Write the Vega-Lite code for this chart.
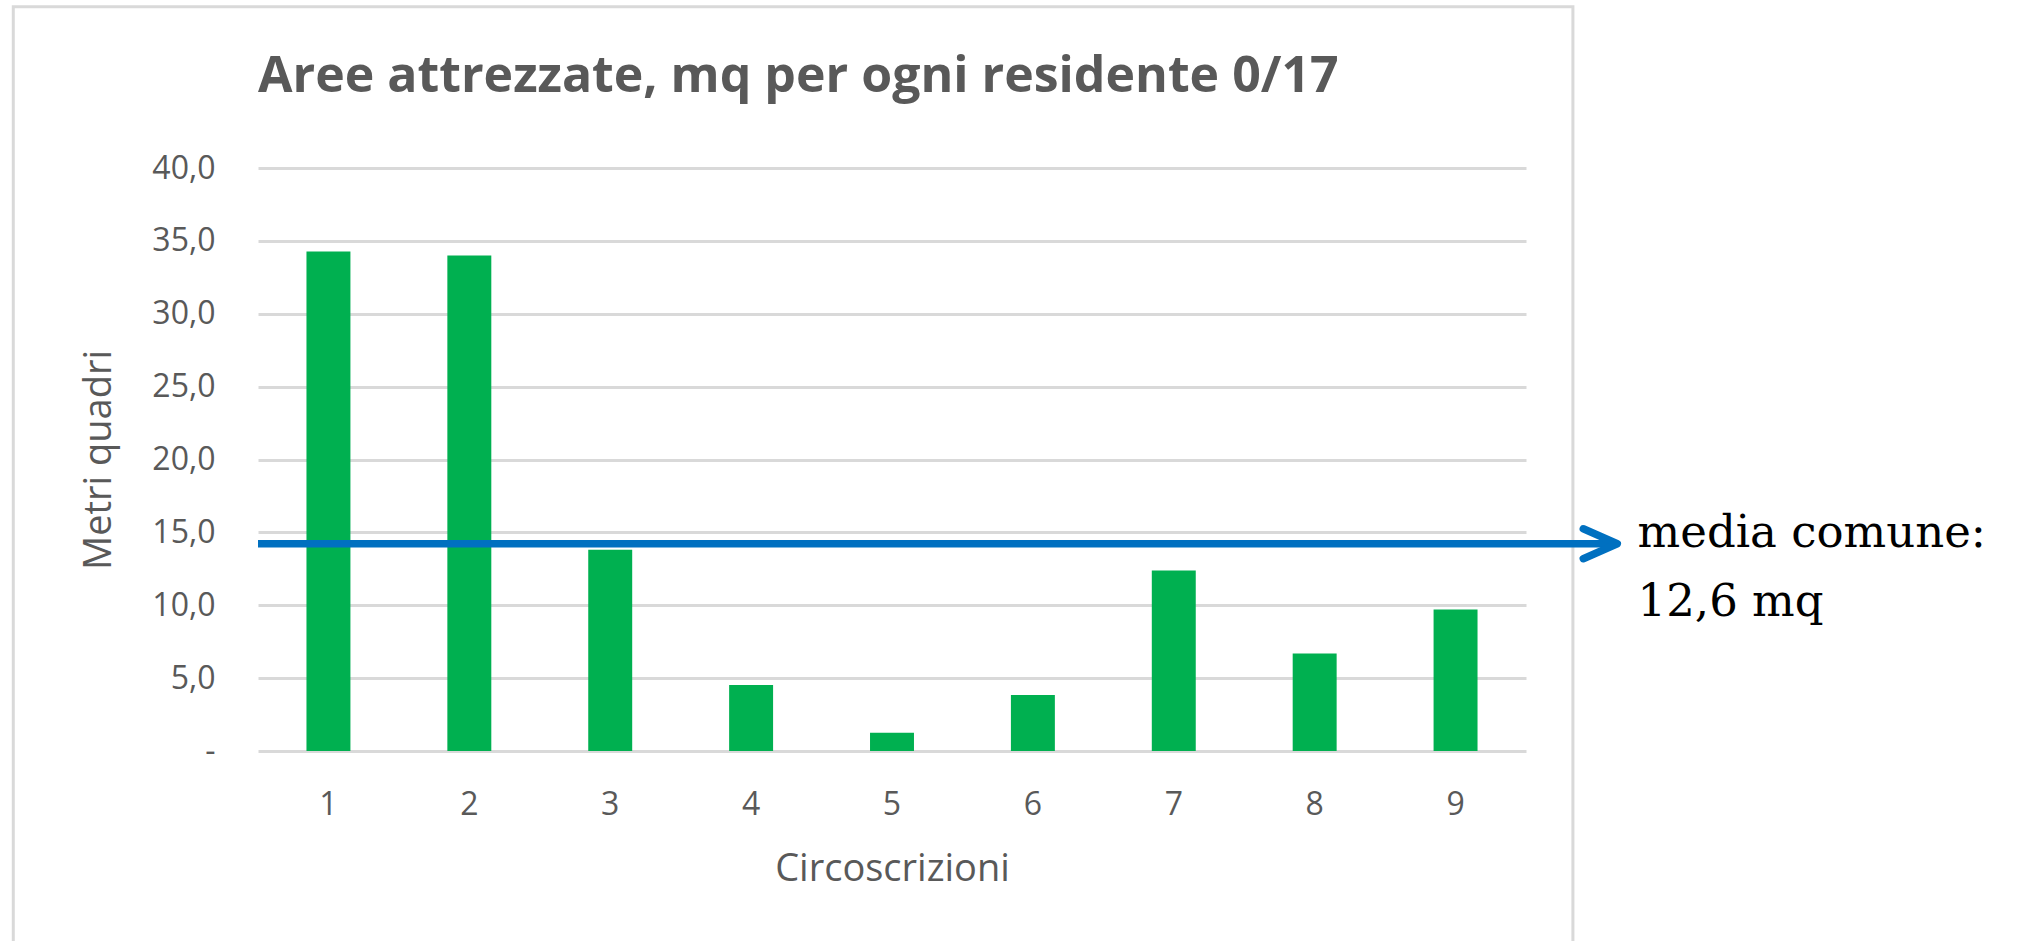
{
  "$schema": "https://vega.github.io/schema/vega-lite/v6.json",
  "autosize": {"type": "none"},
  "width": 1268,
  "height": 583,
  "padding": {"left": 258, "top": 168, "right": 494, "bottom": 190},
  "background": "white",
  "config": {"view": {"stroke": null}, "font": "Open Sans"},
  "title": {
    "text": "Aree attrezzate, mq per ogni residente 0/17",
    "anchor": "start",
    "frame": "group",
    "baseline": "alphabetic",
    "offset": -47,
    "dy": 89.5,
    "font": "Open Sans",
    "fontSize": 50,
    "fontWeight": "bold",
    "color": "#595959"
  },
  "layer": [
    {
      "data": {
        "values": [
          {"c": "1", "v": 34.27},
          {"c": "2", "v": 34.0},
          {"c": "3", "v": 13.81},
          {"c": "4", "v": 4.53},
          {"c": "5", "v": 1.26},
          {"c": "6", "v": 3.85},
          {"c": "7", "v": 12.39},
          {"c": "8", "v": 6.69},
          {"c": "9", "v": 9.71}
        ]
      },
      "mark": {"type": "bar", "color": "#00B050"},
      "encoding": {
        "x": {
          "field": "c",
          "type": "ordinal",
          "scale": {"paddingInner": 0.688, "paddingOuter": 0.344},
          "axis": {
            "title": "Circoscrizioni",
            "labelAngle": 0,
            "labelFont": "Open Sans",
            "labelFontSize": 32,
            "labelColor": "#595959",
            "labelBaseline": "alphabetic",
            "labelPadding": 63,
            "ticks": false,
            "tickSize": 0,
            "domain": false,
            "titleFont": "Open Sans",
            "titleFontSize": 38,
            "titleFontWeight": "normal",
            "titleColor": "#595959",
            "titleBaseline": "alphabetic",
            "titleY": 129,
            "titleX": 634
          }
        },
        "y": {
          "field": "v",
          "type": "quantitative",
          "scale": {"domain": [0, 40], "nice": false},
          "axis": {
            "title": "Metri quadri",
            "values": [0, 5, 10, 15, 20, 25, 30, 35, 40],
            "labelExpr": "datum.value == 0 ? '-\u00a0\u00a0\u00a0' : replace(format(datum.value, '.1f'), '.', ',')",
            "labelFont": "Open Sans",
            "labelFontSize": 32,
            "labelColor": "#595959",
            "labelPadding": 43,
            "ticks": false,
            "tickSize": 0,
            "domain": false,
            "grid": true,
            "gridColor": "#d9d9d9",
            "gridWidth": 3,
            "titleFont": "Open Sans",
            "titleFontSize": 38,
            "titleFontWeight": "normal",
            "titleColor": "#595959",
            "titleAngle": 270,
            "titleBaseline": "alphabetic",
            "titleAlign": "center",
            "titleX": -148,
            "titleY": 291.5
          }
        }
      }
    },
    {
      "data": {"values": [{"media": 14.22, "label": ["media comune:", "12,6 mq"]}]},
      "layer": [
        {
          "mark": {"type": "rect", "fill": null, "fillOpacity": 0, "stroke": "#d9d9d9", "strokeWidth": 3},
          "encoding": {
            "x": {"datum": -19.3, "type": "quantitative", "scale": {"domain": [0, 100], "nice": false, "zero": false}, "axis": null},
            "x2": {"datum": 103.7},
            "y": {"datum": 51.06, "type": "quantitative"},
            "y2": {"datum": -14}
          }
        },
        {
          "mark": {"type": "rule", "color": "#0070C0", "strokeWidth": 7.5},
          "encoding": {
            "x": {"datum": 0, "type": "quantitative", "scale": {"domain": [0, 100], "nice": false, "zero": false}, "axis": null},
            "x2": {"datum": 107},
            "y": {"field": "media", "type": "quantitative"}
          }
        },
        {
          "mark": {
            "type": "point",
            "shape": "M -1 -0.44 L 0 0 L -1 0.44",
            "size": 4624,
            "filled": false,
            "opacity": 1,
            "stroke": "#0070C0",
            "strokeWidth": 7.5,
            "strokeCap": "round",
            "strokeJoin": "round"
          },
          "encoding": {
            "x": {"datum": 107.2, "type": "quantitative", "scale": {"domain": [0, 100], "nice": false, "zero": false}, "axis": null},
            "y": {"field": "media", "type": "quantitative"}
          }
        },
        {
          "mark": {
            "type": "text",
            "align": "left",
            "baseline": "alphabetic",
            "font": "DejaVu Serif",
            "fontSize": 45,
            "lineHeight": 69,
            "color": "black",
            "dy": 3.5
          },
          "encoding": {
            "x": {"datum": 108.8, "type": "quantitative", "scale": {"domain": [0, 100], "nice": false, "zero": false}, "axis": null},
            "y": {"field": "media", "type": "quantitative"},
            "text": {"field": "label"}
          }
        }
      ]
    }
  ],
  "resolve": {"scale": {"x": "independent"}, "axis": {"x": "independent"}}
}
